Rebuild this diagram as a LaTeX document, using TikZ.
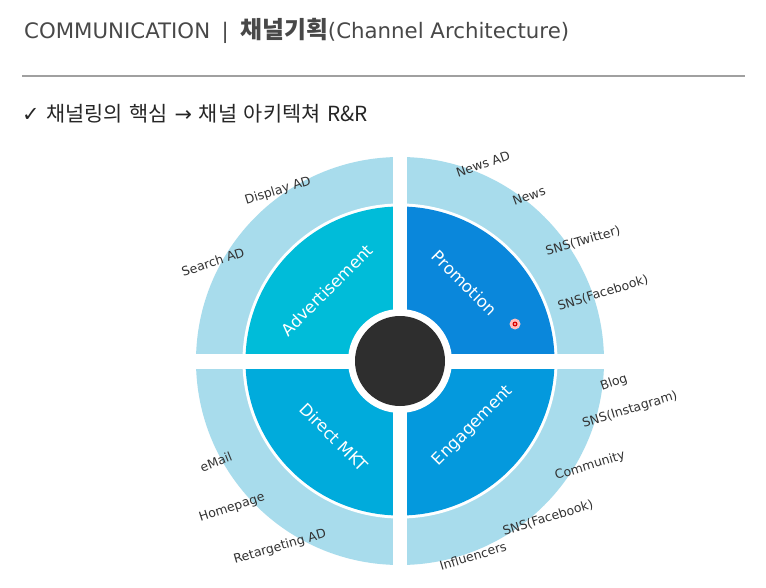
\documentclass[tikz,border=0pt]{standalone}
\usepackage{fontspec}
\usetikzlibrary{calc}
\setmainfont{DejaVu Sans}
\newfontfamily\krfont{Noto Sans CJK KR}
\newfontfamily\krsubfont{Noto Sans CJK KR}[WordSpace=1.45]
\newfontfamily\dvfont{DejaVu Sans}
\definecolor{titlecol}{HTML}{484848}
\definecolor{rulecol}{HTML}{A0A0A0}
\definecolor{ringcol}{HTML}{A8DCEC}
\definecolor{adcol}{HTML}{00BCD9}
\definecolor{promcol}{HTML}{0A87DB}
\definecolor{dmcol}{HTML}{00ABDC}
\definecolor{engcol}{HTML}{0499DD}
\definecolor{hubcol}{HTML}{2E2E2E}
\definecolor{labelcol}{HTML}{333333}
\tikzset{
  ringlabel/.style={text=labelcol, font=\fontsize{12.5}{14}\selectfont, inner sep=0pt},
  quadlabel/.style={text=white, font=\fontsize{16.5}{18}\selectfont, inner sep=0pt},
}
\begin{document}
\begin{tikzpicture}[x=1pt,y=-1pt]
\useasboundingbox (0,0) rectangle (766,588);
\fill[white] (0,0) rectangle (766,588);
% title
\node[anchor=base west, text=titlecol, font=\dvfont\fontsize{21.3}{24}\selectfont, inner sep=0pt] (title) at (24,38.5)
  {COMMUNICATION\hspace{0.54em}|\hspace{0.54em}{\krfont\bfseries\fontsize{23.8}{24}\selectfont 채널기획}(Channel Architecture)};
\coordinate (ruleL) at (22,76);
\coordinate (ruleR) at (745,76);
\draw[rulecol, line width=1.5pt] (ruleL) -- (ruleR);
\node[anchor=base west, text=black!85, font=\krsubfont\fontsize{20.8}{22}\selectfont, inner sep=0pt] (subtitle) at (22,122)
  {{\dvfont ✓} 채널링의 핵심 {\dvfont →} 채널 아키텍쳐 R\&R};
% diagram
\coordinate (c) at (400,361);
\fill[ringcol] (c) circle (204);
\fill[white] (c) circle (157.5);
\begin{scope}
  \clip (c) circle (154.5);
  \fill[adcol] (c) rectangle ++(-160,-160);
  \fill[promcol] (c) rectangle ++(160,-160);
  \fill[dmcol] (c) rectangle ++(-160,160);
  \fill[engcol] (c) rectangle ++(160,160);
\end{scope}
\fill[white] ($(c)+(-7,-210)$) rectangle ($(c)+(7,210)$);
\fill[white] ($(c)+(-210,-7.5)$) rectangle ($(c)+(210,7.5)$);
\fill[white] (c) circle (52);
\node[circle, fill=hubcol, minimum size=90pt, inner sep=0pt] (hub) at (c) {};
% pointer dot
\fill[red!25] (515,324) circle (5.5);
\node[circle, fill=red!85!black, minimum size=5pt, inner sep=0pt] (dot) at (515,324) {};
\fill[red!20] (dot.center) circle (1.2);
% quadrant labels
\node[quadlabel, rotate=45] (adv) at (327,290) {Advertisement};
\node[quadlabel, rotate=-45] (prom) at (465,283) {Promotion};
\node[quadlabel, rotate=-45] (dmkt) at (334,437) {Direct MKT};
\node[quadlabel, rotate=45] (eng) at (473,426) {Engagement};
% ring labels
\node[ringlabel, rotate=17] (l1) at (278,191) {Display AD};
\node[ringlabel, rotate=18] (l2) at (213,262) {Search AD};
\node[ringlabel, rotate=19] (l3) at (483,164) {News AD};
\node[ringlabel, rotate=20] (l4) at (529,196) {News};
\node[ringlabel, rotate=16] (l5) at (583,241) {SNS(Twitter)};
\node[ringlabel, rotate=17] (l6) at (603,293) {SNS(Facebook)};
\node[ringlabel, rotate=22] (l7) at (216,462) {eMail};
\node[ringlabel, rotate=18] (l8) at (232,508) {Homepage};
\node[ringlabel, rotate=16] (l9) at (280,547) {Retargeting AD};
\node[ringlabel, rotate=19] (l10) at (614,383) {Blog};
\node[ringlabel, rotate=17] (l11) at (630,410) {SNS(Instagram)};
\node[ringlabel, rotate=17] (l12) at (590,466) {Community};
\node[ringlabel, rotate=17] (l13) at (548,518) {SNS(Facebook)};
\node[ringlabel, rotate=17] (l14) at (473,556) {Influencers};
\end{tikzpicture}
\end{document}
